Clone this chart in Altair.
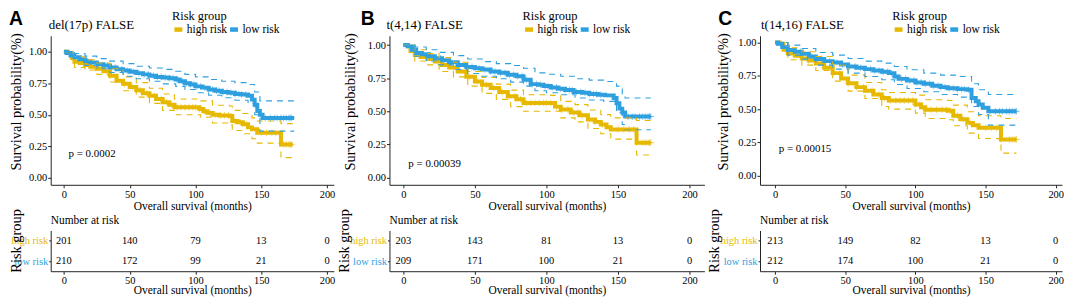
import altair as alt
import pandas as pd

GROUPS = ["high risk", "low risk"]
COLORS = ["#E7B800", "#2E9FDF"]
SERIF = "Liberation Serif"
TIME_TICKS = [0, 50, 100, 150, 200]
SURV_TICKS = [0, 0.25, 0.5, 0.75, 1.0]

# ---------------- Panel A : del(17p) FALSE ----------------
A_HIGH_T = [0, 3, 6, 8, 12, 16, 20, 25, 30, 35, 40, 45, 50, 55, 60, 65, 70, 75, 80, 84, 103, 106, 109, 113, 118, 126, 128, 132, 136, 140, 143, 147, 165, 174]
A_HIGH_S = [1.0, 0.99, 0.95, 0.92, 0.91, 0.895, 0.88, 0.865, 0.845, 0.81, 0.77, 0.745, 0.72, 0.695, 0.67, 0.65, 0.625, 0.60, 0.58, 0.56, 0.545, 0.527, 0.515, 0.50, 0.495, 0.49, 0.45, 0.44, 0.425, 0.40, 0.385, 0.357, 0.265, 0.265]
A_LOW_T = [0, 2, 5, 8, 12, 16, 20, 25, 30, 35, 40, 45, 50, 55, 60, 65, 70, 75, 80, 85, 88, 92, 96, 100, 105, 110, 115, 120, 125, 130, 135, 140, 143, 145, 147, 149, 151, 175]
A_LOW_S = [1.0, 0.99, 0.97, 0.955, 0.94, 0.925, 0.915, 0.90, 0.89, 0.875, 0.86, 0.85, 0.84, 0.83, 0.82, 0.81, 0.80, 0.795, 0.79, 0.78, 0.765, 0.75, 0.74, 0.725, 0.715, 0.70, 0.69, 0.68, 0.675, 0.665, 0.66, 0.65, 0.62, 0.58, 0.53, 0.50, 0.475, 0.475]
A_HIGH_CI_T = [0, 8, 16, 25, 35, 45, 55, 65, 75, 84, 104, 113, 126, 128, 136, 143, 147, 165, 174]
A_HIGH_UP = [1.0, 0.96, 0.935, 0.91, 0.865, 0.80, 0.755, 0.71, 0.665, 0.625, 0.61, 0.575, 0.57, 0.535, 0.51, 0.475, 0.45, 0.43, 0.43]
A_HIGH_LO = [1.0, 0.875, 0.855, 0.82, 0.76, 0.69, 0.64, 0.59, 0.535, 0.50, 0.48, 0.435, 0.42, 0.375, 0.35, 0.31, 0.275, 0.16, 0.16]
A_LOW_CI_T = [0, 8, 16, 25, 35, 45, 55, 65, 75, 85, 92, 100, 110, 120, 130, 140, 145, 149, 175]
A_LOW_UP = [1.0, 0.985, 0.965, 0.945, 0.925, 0.905, 0.885, 0.87, 0.86, 0.845, 0.82, 0.80, 0.78, 0.765, 0.755, 0.74, 0.68, 0.61, 0.61]
A_LOW_LO = [1.0, 0.93, 0.89, 0.865, 0.835, 0.805, 0.785, 0.765, 0.745, 0.725, 0.70, 0.675, 0.655, 0.635, 0.615, 0.59, 0.50, 0.37, 0.37]
A_RISK_HIGH = [201, 140, 79, 13, 0]
A_RISK_LOW = [210, 172, 99, 21, 0]

# ---------------- Panel B : t(4,14) FALSE ----------------
B_HIGH_T = [0, 3, 5, 8, 12, 17, 22, 27, 32, 38, 44, 50, 55, 61, 67, 73, 79, 84, 103, 106, 110, 117, 123, 129, 134, 138, 142, 145, 163, 173]
B_HIGH_S = [1.0, 0.99, 0.955, 0.925, 0.91, 0.895, 0.875, 0.85, 0.83, 0.80, 0.76, 0.725, 0.70, 0.675, 0.645, 0.613, 0.59, 0.563, 0.563, 0.535, 0.513, 0.49, 0.47, 0.438, 0.42, 0.40, 0.38, 0.363, 0.263, 0.263]
B_LOW_T = [0, 3, 6, 9, 13, 18, 22, 27, 32, 38, 44, 50, 55, 61, 67, 73, 79, 84, 89, 94, 98, 103, 108, 113, 119, 125, 130, 136, 141, 147, 149, 151, 153, 155, 173]
B_LOW_S = [1.0, 0.99, 0.965, 0.94, 0.93, 0.915, 0.90, 0.885, 0.87, 0.85, 0.835, 0.825, 0.815, 0.80, 0.79, 0.775, 0.765, 0.738, 0.705, 0.70, 0.69, 0.68, 0.67, 0.66, 0.645, 0.64, 0.63, 0.625, 0.62, 0.60, 0.56, 0.52, 0.49, 0.46, 0.46]
B_HIGH_CI_T = [0, 8, 16, 25, 35, 45, 55, 65, 75, 84, 103, 110, 120, 129, 138, 145, 163, 173]
B_HIGH_UP = [1.0, 0.965, 0.935, 0.905, 0.87, 0.80, 0.755, 0.705, 0.66, 0.625, 0.62, 0.575, 0.55, 0.51, 0.475, 0.45, 0.43, 0.43]
B_HIGH_LO = [1.0, 0.88, 0.85, 0.80, 0.76, 0.69, 0.635, 0.59, 0.535, 0.50, 0.50, 0.45, 0.42, 0.37, 0.33, 0.29, 0.17, 0.17]
B_LOW_CI_T = [0, 8, 16, 25, 35, 45, 55, 65, 75, 84, 92, 100, 110, 120, 130, 140, 149, 153, 155, 173]
B_LOW_UP = [1.0, 0.985, 0.965, 0.945, 0.92, 0.895, 0.875, 0.86, 0.845, 0.825, 0.79, 0.78, 0.765, 0.745, 0.735, 0.725, 0.69, 0.63, 0.60, 0.60]
B_LOW_LO = [1.0, 0.915, 0.88, 0.85, 0.815, 0.785, 0.765, 0.745, 0.72, 0.69, 0.655, 0.64, 0.625, 0.60, 0.585, 0.575, 0.50, 0.40, 0.36, 0.36]
B_RISK_HIGH = [203, 143, 81, 13, 0]
B_RISK_LOW = [209, 171, 100, 21, 0]

# ---------------- Panel C : t(14,16) FALSE ----------------
C_HIGH_T = [0, 3, 6, 9, 14, 19, 24, 29, 35, 41, 47, 52, 58, 64, 70, 76, 81, 97, 100, 104, 107, 123, 127, 132, 137, 141, 145, 161, 172]
C_HIGH_S = [1.0, 0.99, 0.945, 0.917, 0.90, 0.88, 0.865, 0.843, 0.81, 0.77, 0.73, 0.694, 0.665, 0.638, 0.61, 0.583, 0.565, 0.565, 0.535, 0.515, 0.496, 0.488, 0.45, 0.425, 0.397, 0.38, 0.36, 0.273, 0.273]
C_LOW_T = [0, 2, 5, 9, 14, 19, 24, 29, 35, 41, 47, 52, 58, 64, 70, 76, 81, 85, 88, 94, 100, 106, 112, 118, 123, 130, 137, 140, 143, 145, 148, 152, 172]
C_LOW_S = [1.0, 0.99, 0.965, 0.943, 0.93, 0.915, 0.895, 0.876, 0.86, 0.85, 0.835, 0.82, 0.81, 0.80, 0.79, 0.78, 0.77, 0.745, 0.727, 0.715, 0.70, 0.69, 0.675, 0.665, 0.657, 0.65, 0.645, 0.583, 0.56, 0.535, 0.51, 0.484, 0.484]
C_HIGH_CI_T = [0, 9, 19, 29, 41, 52, 64, 76, 81, 100, 107, 123, 127, 137, 145, 161, 172]
C_HIGH_UP = [1.0, 0.96, 0.93, 0.895, 0.83, 0.755, 0.70, 0.645, 0.625, 0.605, 0.57, 0.565, 0.53, 0.48, 0.45, 0.43, 0.43]
C_HIGH_LO = [1.0, 0.87, 0.83, 0.79, 0.71, 0.635, 0.58, 0.52, 0.50, 0.47, 0.43, 0.42, 0.375, 0.32, 0.28, 0.17, 0.17]
C_LOW_CI_T = [0, 9, 19, 29, 41, 52, 64, 76, 85, 94, 106, 118, 130, 140, 145, 152, 172]
C_LOW_UP = [1.0, 0.98, 0.955, 0.925, 0.905, 0.88, 0.86, 0.845, 0.82, 0.795, 0.77, 0.755, 0.745, 0.69, 0.645, 0.61, 0.61]
C_LOW_LO = [1.0, 0.905, 0.875, 0.83, 0.80, 0.77, 0.745, 0.72, 0.685, 0.655, 0.63, 0.61, 0.59, 0.52, 0.46, 0.38, 0.38]
C_RISK_HIGH = [213, 149, 82, 13, 0]
C_RISK_LOW = [212, 174, 100, 21, 0]

# censoring times ("+" marks), same pattern in all three panels
CENS_HIGH = [24, 35, 46, 52, 58, 63, 69, 74, 78, 82, 86, 89, 92, 95, 98, 100, 103, 107, 111, 115, 119, 122, 125, 130, 134, 139, 150, 154, 158, 161, 167, 169, 171, 172, 173]
CENS_LOW = [18, 26, 33, 39, 44, 48, 53, 57, 61, 64, 68, 71, 74, 77, 80, 83, 86, 90, 93, 96, 99, 101, 104, 107, 110, 113, 116, 118, 121, 124, 127, 130, 133, 135, 138, 153, 157, 160, 162, 165, 167, 169, 171, 172, 173]

PANELS = [
    dict(letter="A", title="del(17p) FALSE", pval="p = 0.0002", pval_t=3.5, pval_s=0.19,
         high=(A_HIGH_T, A_HIGH_S), low=(A_LOW_T, A_LOW_S),
         high_ci=(A_HIGH_CI_T, A_HIGH_UP, A_HIGH_LO), low_ci=(A_LOW_CI_T, A_LOW_UP, A_LOW_LO),
         risk=(A_RISK_HIGH, A_RISK_LOW),
         width=285, xdom=[-10.05, 205.2], ydom=[-0.055, 1.126],
         letter_x=-42, title_x=-2, ytitle_x=-27.5, ttitle_x=-27.5, legend_x=122),
    dict(letter="B", title="t(4,14) FALSE", pval="p = 0.00039", pval_t=3.5, pval_s=0.10,
         high=(B_HIGH_T, B_HIGH_S), low=(B_LOW_T, B_LOW_S),
         high_ci=(B_HIGH_CI_T, B_HIGH_UP, B_HIGH_LO), low_ci=(B_LOW_CI_T, B_LOW_UP, B_LOW_LO),
         risk=(B_RISK_HIGH, B_RISK_LOW),
         width=317, xdom=[-9.7, 210.4], ydom=[-0.055, 1.070],
         letter_x=-29, title_x=-3, ytitle_x=-32, ttitle_x=-38, legend_x=134),
    dict(letter="C", title="t(14,16) FALSE", pval="p = 0.00015", pval_t=2.6, pval_s=0.20,
         high=(C_HIGH_T, C_HIGH_S), low=(C_LOW_T, C_LOW_S),
         high_ci=(C_HIGH_CI_T, C_HIGH_UP, C_HIGH_LO), low_ci=(C_LOW_CI_T, C_LOW_UP, C_LOW_LO),
         risk=(C_RISK_HIGH, C_RISK_LOW),
         width=304, xdom=[-10.8, 204.5], ydom=[-0.067, 1.050],
         letter_x=-42, title_x=1, ytitle_x=-30, ttitle_x=-39, legend_x=133),
]

KM_H = 150
TAB_H = 41
TOP_Y = -26


def step_at(ts, ss, t):
    v = ss[0]
    for ti, si in zip(ts, ss):
        if ti <= t:
            v = si
    return v


def label_layer(text, x, y, **style):
    return alt.Chart(pd.DataFrame([{"label": text}])).mark_text(**style).encode(
        x=alt.value(x), y=alt.value(y), text="label:N")


def km_chart(p):
    curve = pd.DataFrame([
        {"time": t, "surv": s, "group": g}
        for g, (ts, ss) in zip(GROUPS, [p["high"], p["low"]])
        for t, s in zip(ts, ss)
    ])
    band = pd.DataFrame([
        {"time": t, "surv": v, "group": g, "side": g + side}
        for g, (ts, up, lo) in zip(GROUPS, [p["high_ci"], p["low_ci"]])
        for side, vals in (("upper", up), ("lower", lo))
        for t, v in zip(ts, vals)
    ])
    cens = pd.DataFrame([
        {"time": c, "surv": step_at(ts, ss, c), "group": g}
        for g, (ts, ss), cts in zip(GROUPS, [p["high"], p["low"]], [CENS_HIGH, CENS_LOW])
        for c in cts if c <= ts[-1]
    ])
    ptext = pd.DataFrame([{"time": p["pval_t"], "surv": p["pval_s"], "label": p["pval"]}])

    xs = alt.Scale(domain=p["xdom"], nice=False, zero=False)
    ys = alt.Scale(domain=p["ydom"], nice=False, zero=False)
    x = alt.X("time:Q", scale=xs, axis=alt.Axis(values=TIME_TICKS, title="Overall survival (months)",
                                                titlePadding=0, labelPadding=2, labelFlush=False))
    y = alt.Y("surv:Q", scale=ys, axis=alt.Axis(values=SURV_TICKS, format=".2f",
                                                title="Survival probability(%)",
                                                titleX=p["ytitle_x"], titleY=66, titleFontSize=14.5))
    cscale = alt.Scale(domain=GROUPS, range=COLORS)
    color_leg = alt.Color("group:N", scale=cscale, legend=alt.Legend(
        title="Risk group", orient="none", legendX=p["legend_x"], legendY=TOP_Y,
        direction="horizontal", columns=2, padding=0,
        titleFont=SERIF, titleFontSize=12.5, titleFontWeight="normal", titleColor="black",
        titlePadding=0.5, labelFont=SERIF, labelFontSize=11.5, labelColor="black",
        labelOffset=2, columnPadding=-8, symbolType="stroke", symbolStrokeWidth=4.5,
        symbolSize=64))
    stroke_nl = alt.Stroke("group:N", scale=cscale, legend=None)

    lines = alt.Chart(curve).mark_line(interpolate="step-after", strokeWidth=4).encode(
        x=x, y=y, color=color_leg)
    bands = alt.Chart(band).mark_line(interpolate="step-after", strokeWidth=1.1,
                                      strokeDash=[6, 5]).encode(
        x=x, y=y, stroke=stroke_nl, detail="side:N")
    marks = alt.Chart(cens).mark_point(shape="M-1,0L1,0M0,-1L0,1", filled=False, size=45,
                                       strokeWidth=1, opacity=0.55).encode(
        x=x, y=y, stroke=stroke_nl)
    pv = alt.Chart(ptext).mark_text(font=SERIF, fontSize=11, align="left", baseline="middle",
                                    color="black").encode(x=x, y=y, text="label:N")
    lt = label_layer(p["letter"], p["letter_x"], TOP_Y, font="Liberation Sans", fontWeight="bold",
                     fontSize=19.5, align="left", baseline="top", color="black")
    tt = label_layer(p["title"], p["title_x"], -7, font=SERIF, fontSize=13, align="left",
                     baseline="alphabetic", color="black")
    return alt.layer(lines, bands, marks, pv, lt, tt).properties(width=p["width"], height=KM_H)


def table_chart(p):
    df = pd.DataFrame([
        {"time": t, "n": n, "group": g}
        for g, counts in zip(GROUPS, p["risk"])
        for t, n in zip(TIME_TICKS, counts)
    ])
    xs = alt.Scale(domain=p["xdom"], nice=False, zero=False)
    nums = alt.Chart(df).mark_text(font=SERIF, fontSize=10.5, color="black").encode(
        x=alt.X("time:Q", scale=xs, axis=alt.Axis(values=TIME_TICKS, title="Overall survival (months)",
                                                  titlePadding=-1, labelFlush=False)),
        y=alt.Y("group:N", sort=GROUPS, scale=alt.Scale(domain=GROUPS),
                axis=alt.Axis(title="Risk group", titleX=p["ttitle_x"], titleY=10, titleFontSize=14.5,
                              labelFontSize=10.5, tickSize=2, labelPadding=1,
                              labelColor={"condition": {"test": "datum.value === 'high risk'",
                                                        "value": COLORS[0]},
                                          "value": COLORS[1]})),
        text=alt.Text("n:Q"),
    )
    head = label_layer("Number at risk", 0, -7, font=SERIF, fontSize=11.5, align="left",
                       baseline="alphabetic", color="black")
    return alt.layer(nums, head).properties(width=p["width"], height=TAB_H)


kms = [km_chart(p) for p in PANELS]
tabs = [table_chart(p) for p in PANELS]

chart = alt.concat(
    *kms, *tabs, columns=3, spacing={"row": 46, "column": 56}, bounds="flush", align="each"
).resolve_scale(
    x="independent", y="independent", color="independent", stroke="independent"
).resolve_legend(color="independent").properties(
    padding=0, background="white"
).configure_view(stroke=None).configure_axis(
    grid=False, labelFont=SERIF, labelFontSize=10.5, labelColor="black",
    titleFont=SERIF, titleFontSize=11.5, titleFontWeight="normal", titleColor="black",
    tickSize=3, tickColor="#222", domainColor="#222", labelPadding=1
)

chart.save("out.html", embed_options={"renderer": "svg", "actions": False})
